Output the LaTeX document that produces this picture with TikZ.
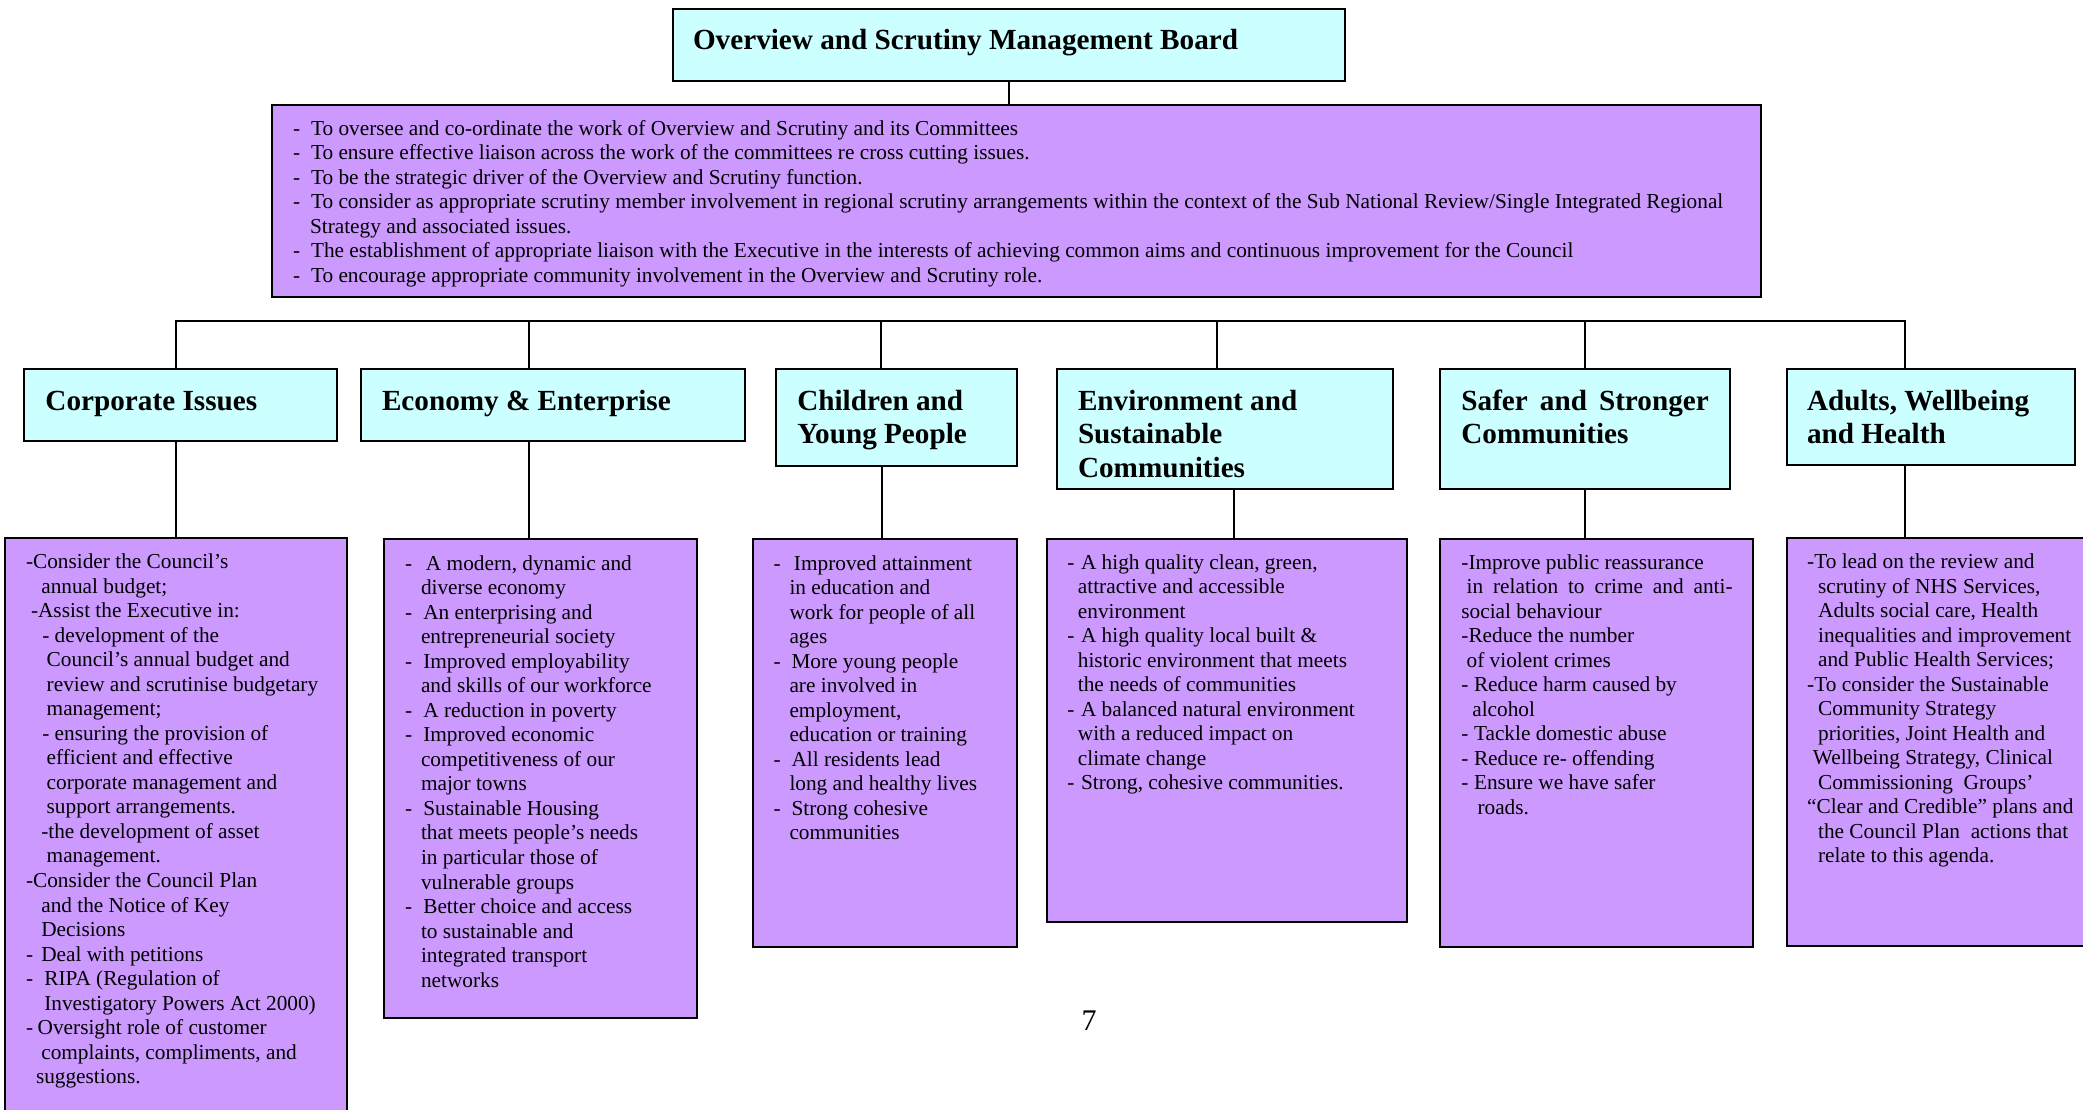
\documentclass[tikz,border=0pt]{standalone}
\usepackage{fontspec}
\setmainfont{Liberation Serif}
\definecolor{hcyan}{RGB}{204,255,255}
\definecolor{bpurple}{RGB}{204,153,255}
\newlength\pxu \setlength\pxu{0.5pt}
\newcommand\TL[2]{\hspace*{#1\pxu}\mbox{#2}\par}
\newcommand\DL[3]{\hspace*{#1\pxu}\makebox[\dimexpr#2\pxu-#1\pxu\relax][l]{-}\mbox{#3}\par}
\newcommand\bodyfont{\fontsize{10.65pt}{12.27pt}\selectfont}
\newcommand\headfont{\fontsize{14.6pt}{16.9pt}\selectfont\bfseries}
\newcommand\Lines[1]{\parbox[t]{800pt}{#1}}
\tikzset{
  hbox/.style={draw, fill=hcyan, line width=1.2pt, inner sep=0pt, outer sep=0pt},
  pbox/.style={draw, fill=bpurple, line width=1.2pt, inner sep=0pt, outer sep=0pt},
  conn/.style={draw, line width=1pt},
  txt/.style={inner sep=0pt, outer sep=0pt, anchor=base west, align=left},
}
\newcommand\bx[6]{\node[#6, anchor=north west, minimum width={(#4-#2)*0.5pt}, minimum height={(#5-#3)*0.5pt}] (#1) at (#2,#3) {};}
\begin{document}
\begin{tikzpicture}[x=0.5pt,y=-0.5pt]
\path[use as bounding box] (0,0) rectangle (2083,1109);
\clip (0,0) rectangle (2083,1109);
\fill[white] (0,0) rectangle (2083,1109);

% boxes
\bx{top}{673}{9}{1345}{81}{hbox}
\bx{remit}{272}{105}{1761}{297}{pbox}
\bx{corpH}{24}{369}{337}{441}{hbox}
\bx{econH}{361}{369}{745}{441}{hbox}
\bx{childH}{776}{369}{1017}{466}{hbox}
\bx{envH}{1057}{369}{1393}{489}{hbox}
\bx{saferH}{1440}{369}{1730}{489}{hbox}
\bx{adultsH}{1787}{369}{2075}{465}{hbox}
\bx{corpC}{5}{538}{347}{1130}{pbox}
\bx{econC}{384}{539}{697}{1018}{pbox}
\bx{childC}{753}{539}{1017}{947}{pbox}
\bx{envC}{1047}{539}{1407}{922}{pbox}
\bx{saferC}{1440}{539}{1753}{947}{pbox}
\bx{adultsC}{1787}{538}{2100}{946}{pbox}

% connector points
\coordinate (bus) at (0,321);
\coordinate (corpT) at (176.3,369);  \coordinate (corpB) at (176.3,441);
\coordinate (econT) at (528.5,369);  \coordinate (econB) at (528.5,441);
\coordinate (childT) at (881,369);   \coordinate (childB) at (882,466);
\coordinate (envT) at (1217,369);    \coordinate (envB) at (1233.5,489);
\coordinate (saferT) at (1585,369);  \coordinate (saferB) at (1585,489);
\coordinate (adultsT) at (1905,369); \coordinate (adultsB) at (1905,465);

\draw[conn] (top.south) -- (top.south |- remit.north);
\draw[conn] (corpT) -- (corpT |- bus) -- (adultsT |- bus) -- (adultsT);
\foreach \n in {econ,child,env,safer}{\draw[conn] (\n T) -- (\n T |- bus);}
\foreach \n in {corp,econ,child,env,safer,adults}{\draw[conn] (\n B) -- (\n B |- \n C.north);}

% titles
\node[txt] (topText) at (693,49) {\headfont Overview and Scrutiny Management Board};
\node[txt] (remitText) at (293,135) {\fontsize{10.65pt}{12.25pt}\selectfont\Lines{%
\DL{0}{18}{To oversee and co-ordinate the work of Overview and Scrutiny and its Committees}
\DL{0}{18}{To ensure effective liaison across the work of the committees re cross cutting issues.}
\DL{0}{18}{To be the strategic driver of the Overview and Scrutiny function.}
\DL{0}{18}{To consider as appropriate scrutiny member involvement in regional scrutiny arrangements within the context of the Sub National Review/Single Integrated Regional}
\TL{17}{Strategy and associated issues.}
\DL{0}{18}{The establishment of appropriate liaison with the Executive in the interests of achieving common aims and continuous improvement for the Council}
\DL{0}{18}{To encourage appropriate community involvement in the Overview and Scrutiny role.}}};

\node[txt] (corpHT) at (45.5,410) {\headfont Corporate Issues};
\node[txt] (econHT) at (382,410) {\headfont Economy \& Enterprise};
\node[txt] (childHT) at (797.3,410) {\headfont\Lines{Children and\par Young People}};
\node[txt] (envHT) at (1078,410) {\headfont\Lines{Environment and\par Sustainable\par Communities}};
\node[txt] (saferHT) at (1461.4,410) {\headfont\Lines{\makebox[123.7pt][s]{Safer and Stronger}\par Communities}};
\node[txt] (adultsHT) at (1807,410) {\headfont\Lines{Adults, Wellbeing\par and Health}};

% contents
\node[txt] (corpText) at (26,568.5) {\bodyfont\Lines{%
\TL{0}{-Consider the Council’s}
\TL{15.3}{annual budget;}
\TL{5}{-Assist the Executive in:}
\TL{16.3}{- development of the}
\TL{20.7}{Council’s annual budget and}
\TL{20.7}{review and scrutinise budgetary}
\TL{20.7}{management;}
\TL{16.3}{- ensuring the provision of}
\TL{20.7}{efficient and effective}
\TL{20.7}{corporate management and}
\TL{20.7}{support arrangements.}
\TL{15.3}{-the development of asset}
\TL{20.7}{management.}
\TL{0}{-Consider the Council Plan}
\TL{15.3}{and the Notice of Key}
\TL{15.3}{Decisions}
\DL{0}{15.3}{Deal with petitions}
\DL{0}{18.3}{RIPA (Regulation of}
\TL{18.3}{Investigatory Powers Act 2000)}
\DL{0}{11.7}{Oversight role of\ customer}
\TL{15.3}{complaints,\ compliments,\ and}
\TL{10}{suggestions.}}};

\node[txt] (econText) at (405,570) {\bodyfont\Lines{%
\DL{0}{21}{A modern, dynamic and}
\TL{16}{diverse economy}
\DL{0}{18.3}{An enterprising and}
\TL{16}{entrepreneurial society}
\DL{0}{18.3}{Improved employability}
\TL{16}{and skills of our workforce}
\DL{0}{18.3}{A reduction in poverty}
\DL{0}{18.3}{Improved economic}
\TL{16}{competitiveness of our}
\TL{16}{major towns}
\DL{0}{18.3}{Sustainable Housing}
\TL{16}{that meets people’s needs}
\TL{16}{in particular those of}
\TL{16}{vulnerable groups}
\DL{0}{18.3}{Better choice and access}
\TL{16}{to sustainable and}
\TL{16}{integrated transport}
\TL{16}{networks}}};

\node[txt] (childText) at (773.5,570) {\bodyfont\Lines{%
\DL{0}{20.5}{Improved attainment}
\TL{16}{in education and}
\TL{16}{work for people of all}
\TL{16}{ages}
\DL{0}{18}{More young people}
\TL{16}{are involved in}
\TL{16}{employment,}
\TL{16}{education or training}
\DL{0}{18}{All residents lead}
\TL{16}{long and healthy lives}
\DL{0}{18}{Strong cohesive}
\TL{16}{communities}}};

\node[txt] (envText) at (1067.3,569) {\bodyfont\Lines{%
\DL{0}{13.7}{A high quality clean, green,}
\TL{10.6}{attractive and accessible}
\TL{10.6}{environment}
\DL{0}{13.7}{A high quality local built \&}
\TL{10.6}{historic environment that meets}
\TL{10.6}{the needs of communities}
\DL{0}{13.7}{A balanced natural environment}
\TL{10.6}{with a reduced impact on}
\TL{10.6}{climate change}
\DL{0}{13.7}{Strong, cohesive communities.}}};

\node[txt] (saferText) at (1461.4,569) {\bodyfont\Lines{%
\TL{0}{-Improve public reassurance}
\TL{5.2}{\makebox[133pt][s]{in relation to crime and anti-}}
\TL{0}{social behaviour}
\TL{0}{-Reduce the number}
\TL{5.2}{of violent crimes}
\DL{0}{12.6}{Reduce harm caused by}
\TL{10.9}{alcohol}
\DL{0}{12.6}{Tackle domestic abuse}
\DL{0}{12.6}{Reduce re- offending}
\DL{0}{12.6}{Ensure we have safer}
\TL{16.1}{roads.}}};

\node[txt] (adultsText) at (1807.2,568.5) {\bodyfont\Lines{%
\TL{0}{-To lead on the review and}
\TL{10.9}{scrutiny of NHS Services,}
\TL{10.9}{Adults social care, Health}
\TL{10.9}{inequalities and improvement}
\TL{10.9}{and Public Health Services;}
\TL{0}{-To consider the Sustainable}
\TL{10.9}{Community Strategy}
\TL{10.9}{priorities, Joint Health and}
\TL{5.7}{Wellbeing Strategy, Clinical}
\TL{10.9}{Commissioning\ \ Groups’}
\TL{0}{“Clear and Credible” plans and}
\TL{10.9}{the Council Plan\ \ actions that}
\TL{10.9}{relate to this agenda.}}};

\node[inner sep=0pt, anchor=base] (pageNo) at (1089,1030) {\fontsize{15pt}{18pt}\selectfont 7};
\end{tikzpicture}
\end{document}
